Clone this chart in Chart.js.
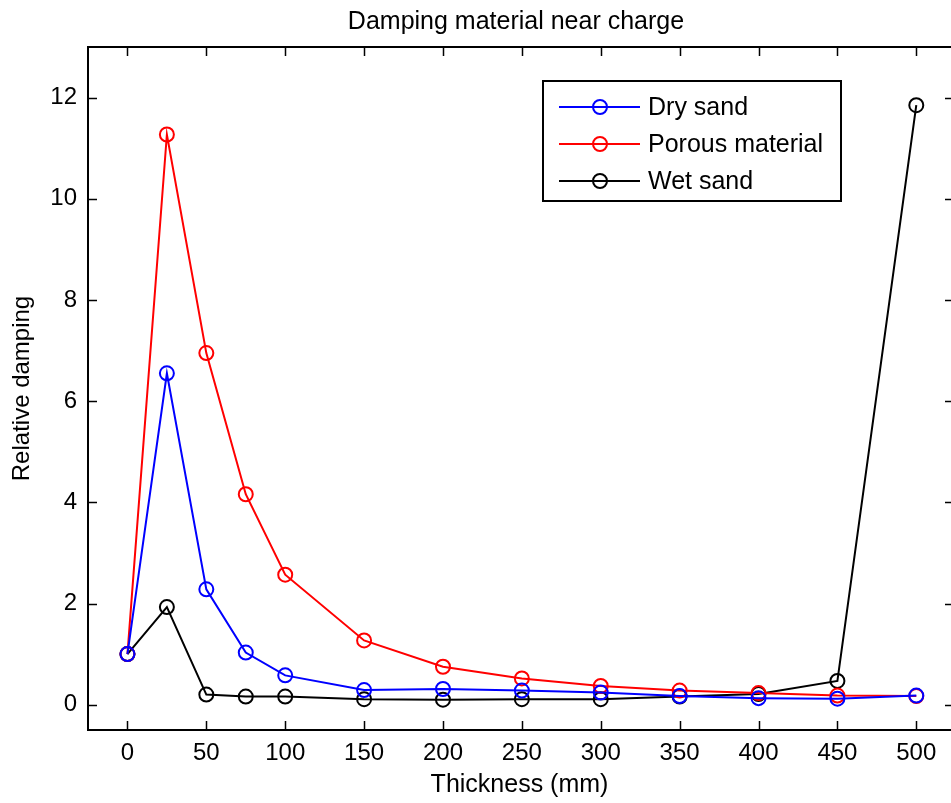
<!DOCTYPE html>
<html>
<head>
<meta charset="utf-8">
<script src="https://cdn.jsdelivr.net/npm/chart.js@4/dist/chart.umd.min.js"></script>
<style>
  html, body { margin: 0; padding: 0; background: #ffffff; }
  #wrap { width: 951px; height: 803px; position: relative; overflow: hidden; }
</style>
</head>
<body>
<div id="wrap"><canvas id="c" width="951" height="803"></canvas></div>
<script>
const thickness = [0, 25, 50, 75, 100, 150, 200, 250, 300, 350, 400, 450, 500];
const drySand   = [1.0, 6.55, 2.28, 1.03, 0.58, 0.29, 0.31, 0.28, 0.24, 0.17, 0.13, 0.12, 0.18];
const porous    = [1.0, 11.27, 6.95, 4.16, 2.57, 1.27, 0.75, 0.52, 0.37, 0.28, 0.23, 0.18, 0.17];
const wetSand   = [1.0, 1.93, 0.20, 0.16, 0.16, 0.11, 0.10, 0.11, 0.11, 0.16, 0.21, 0.47, 11.85];
const seriesNames = ['Dry sand', 'Porous material', 'Wet sand'];
const seriesColors = ['#0000ff', '#ff0000', '#000000'];
const xTickValues = [0, 50, 100, 150, 200, 250, 300, 350, 400, 450, 500];
const yTickValues = [0, 2, 4, 6, 8, 10, 12];
const chartTitle = 'Damping material near charge';
const xTitle = 'Thickness (mm)';
const yTitle = 'Relative damping';

const FONT = "'Liberation Sans', Arial, sans-serif";

function mk(vals, i) {
  return {
    label: seriesNames[i],
    data: thickness.map((x, k) => ({x: x, y: vals[k]})),
    borderColor: seriesColors[i],
    backgroundColor: 'rgba(0,0,0,0)',
    borderWidth: 2,
    pointStyle: 'circle',
    pointRadius: 7,
    pointHoverRadius: 7,
    pointBorderWidth: 2,
    pointBorderColor: seriesColors[i],
    pointBackgroundColor: 'rgba(0,0,0,0)',
    showLine: true,
    tension: 0
  };
}

const framePlugin = {
  id: 'frame',
  afterDraw(chart) {
    const ctx = chart.ctx;
    const a = chart.chartArea;
    const xs = chart.scales.x, ys = chart.scales.y;
    const L = 9;
    ctx.save();
    ctx.strokeStyle = '#000';
    ctx.lineWidth = 2;
    // axes box (right edge lies just past the canvas edge, as in the reference)
    ctx.beginPath();
    ctx.moveTo(a.right + 4, a.top); ctx.lineTo(a.left, a.top);
    ctx.lineTo(a.left, a.bottom); ctx.lineTo(a.right + 4, a.bottom);
    ctx.stroke();
    ctx.lineWidth = 1.5;
    ctx.beginPath();
    xs.ticks.forEach(t => {
      const px = Math.round(xs.getPixelForValue(t.value)) + 0.5;
      ctx.moveTo(px, a.bottom); ctx.lineTo(px, a.bottom - L);
      ctx.moveTo(px, a.top); ctx.lineTo(px, a.top + L);
    });
    ys.ticks.forEach(t => {
      const py = Math.round(ys.getPixelForValue(t.value)) + 0.5;
      ctx.moveTo(a.left, py); ctx.lineTo(a.left + L, py);
      ctx.moveTo(a.right + 3, py); ctx.lineTo(a.right + 3 - L, py);
    });
    ctx.stroke();
    // title centred over the plot area
    ctx.fillStyle = '#000';
    ctx.font = '25px ' + FONT;
    ctx.textAlign = 'center';
    ctx.textBaseline = 'alphabetic';
    ctx.fillText(chartTitle, 516, 29);
    ctx.restore();
  }
};

const legendPlugin = {
  id: 'boxLegend',
  afterDatasetsDraw(chart) {
    const ctx = chart.ctx;
    const bx = 543, by = 81, bw = 298, bh = 120;
    ctx.save();
    ctx.fillStyle = '#fff';
    ctx.fillRect(bx, by, bw, bh);
    ctx.strokeStyle = '#000';
    ctx.lineWidth = 2;
    ctx.strokeRect(bx, by, bw, bh);
    const rows = [107, 144, 181];
    chart.data.datasets.forEach((ds, i) => {
      const y = rows[i];
      ctx.strokeStyle = ds.borderColor;
      ctx.lineWidth = 2;
      ctx.beginPath();
      ctx.moveTo(559, y); ctx.lineTo(640, y);
      ctx.stroke();
      ctx.beginPath();
      ctx.arc(600, y, 7, 0, Math.PI * 2);
      ctx.stroke();
      ctx.fillStyle = '#000';
      ctx.font = '25px ' + FONT;
      ctx.textBaseline = 'middle';
      ctx.textAlign = 'left';
      ctx.fillText(ds.label, 648, y + 1);
    });
    ctx.restore();
  }
};

new Chart(document.getElementById('c'), {
  type: 'scatter',
  data: {
    datasets: [mk(drySand, 0), mk(porous, 1), mk(wetSand, 2)]
  },
  options: {
    responsive: false,
    animation: false,
    devicePixelRatio: 1,
    layout: { autoPadding: false, padding: { left: 0, right: 0, top: 47, bottom: 0 } },
    plugins: {
      legend: { display: false },
      tooltip: { enabled: false },
      title: { display: false }
    },
    scales: {
      x: {
        type: 'linear',
        position: 'bottom',
        min: -25,
        max: 522,
        afterBuildTicks: s => { s.ticks = xTickValues.map(v => ({value: v})); },
        afterFit: s => { s.height = 73; s.paddingLeft = 0; s.paddingRight = 0; },
        grid: { display: false, drawTicks: false },
        border: { display: false },
        ticks: {
          color: '#000',
          font: { family: FONT, size: 24 },
          padding: 9,
          maxRotation: 0,
          autoSkip: false
        },
        title: {
          display: true,
          text: xTitle,
          color: '#000',
          font: { family: FONT, size: 25, lineHeight: 1.2 },
          padding: { top: 0, bottom: 3 }
        }
      },
      y: {
        type: 'linear',
        position: 'left',
        min: -0.5,
        max: 13,
        afterBuildTicks: s => { s.ticks = yTickValues.map(v => ({value: v})); },
        afterFit: s => { s.width = 88; s.paddingTop = 0; s.paddingBottom = 0; },
        grid: { display: false, drawTicks: false },
        border: { display: false },
        ticks: {
          color: '#000',
          font: { family: FONT, size: 24 },
          padding: 11,
          autoSkip: false
        },
        title: {
          display: true,
          text: yTitle,
          color: '#000',
          font: { family: FONT, size: 24, lineHeight: 1.2 },
          padding: { top: 8, bottom: 0 }
        }
      }
    }
  },
  plugins: [framePlugin, legendPlugin]
});
</script>
</body>
</html>
